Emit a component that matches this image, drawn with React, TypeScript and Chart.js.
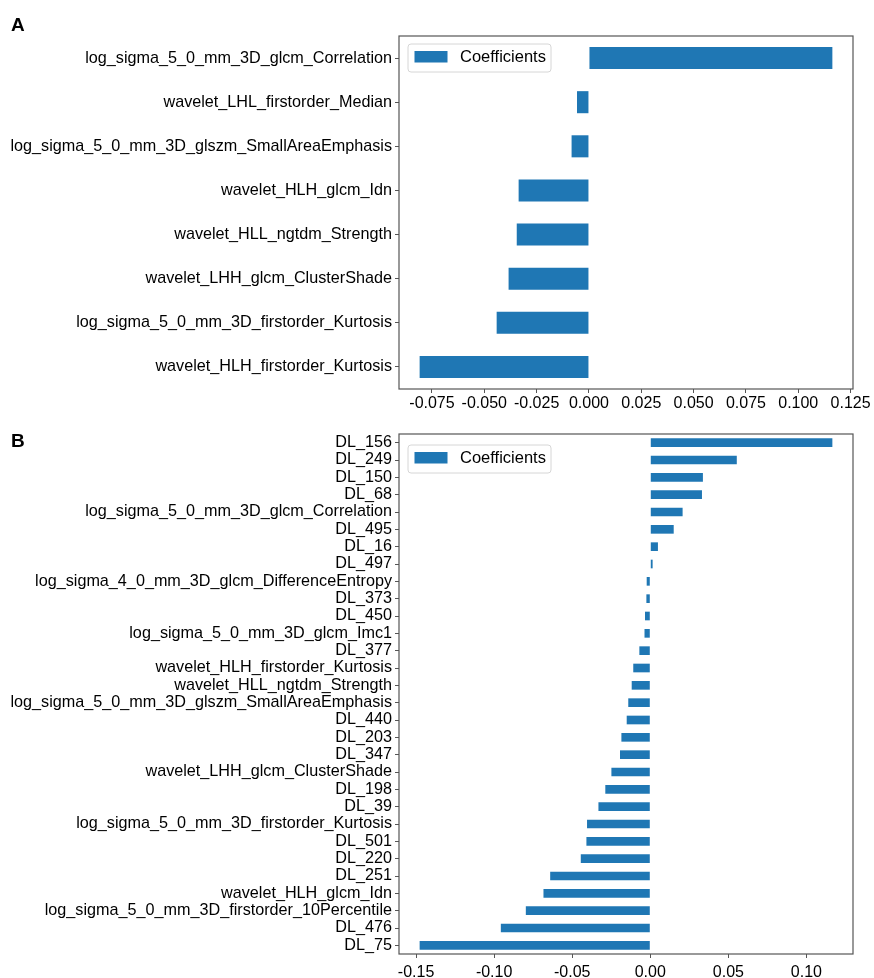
import React, { useEffect, useRef } from "react";
import { Chart, registerables } from "chart.js";

Chart.register(...registerables);

// Panel A: radiomics-only model coefficients (top to bottom)
const labelsA = [
  "log_sigma_5_0_mm_3D_glcm_Correlation",
  "wavelet_LHL_firstorder_Median",
  "log_sigma_5_0_mm_3D_glszm_SmallAreaEmphasis",
  "wavelet_HLH_glcm_Idn",
  "wavelet_HLL_ngtdm_Strength",
  "wavelet_LHH_glcm_ClusterShade",
  "log_sigma_5_0_mm_3D_firstorder_Kurtosis",
  "wavelet_HLH_firstorder_Kurtosis",
];
const valuesA = [0.1163, -0.0057, -0.0083, -0.0336, -0.0345, -0.0384, -0.0441, -0.0809];
const ticksA = [-0.075, -0.05, -0.025, 0, 0.025, 0.05, 0.075, 0.1, 0.125];

// Panel B: combined deep-learning + radiomics model coefficients (top to bottom)
const labelsB = [
  "DL_156",
  "DL_249",
  "DL_150",
  "DL_68",
  "log_sigma_5_0_mm_3D_glcm_Correlation",
  "DL_495",
  "DL_16",
  "DL_497",
  "log_sigma_4_0_mm_3D_glcm_DifferenceEntropy",
  "DL_373",
  "DL_450",
  "log_sigma_5_0_mm_3D_glcm_Imc1",
  "DL_377",
  "wavelet_HLH_firstorder_Kurtosis",
  "wavelet_HLL_ngtdm_Strength",
  "log_sigma_5_0_mm_3D_glszm_SmallAreaEmphasis",
  "DL_440",
  "DL_203",
  "DL_347",
  "wavelet_LHH_glcm_ClusterShade",
  "DL_198",
  "DL_39",
  "log_sigma_5_0_mm_3D_firstorder_Kurtosis",
  "DL_501",
  "DL_220",
  "DL_251",
  "wavelet_HLH_glcm_Idn",
  "log_sigma_5_0_mm_3D_firstorder_10Percentile",
  "DL_476",
  "DL_75",
];
const valuesB = [
  0.1166, 0.0554, 0.0337, 0.0331, 0.0207, 0.015, 0.0049, 0.0015, -0.0023, -0.0025,
  -0.0034, -0.0037, -0.007, -0.0109, -0.0119, -0.0141, -0.0151, -0.0185, -0.0194, -0.0249,
  -0.0288, -0.0332, -0.0405, -0.0409, -0.0445, -0.0641, -0.0684, -0.0797, -0.0957, -0.1477,
];
const ticksB = [-0.15, -0.1, -0.05, 0, 0.05, 0.1];

const FONT = "'Liberation Sans', Arial, Helvetica, sans-serif";
const BAR = "#1f77b4";
const SPINE = "#555555";

type PanelSpec = {
  labels: string[];
  values: number[];
  ticks: number[];
  decimals: number;
  canvasHeight: number;
  plotTop: number;
  plotBottom: number;
  plotLeft: number;
  plotRight: number;
  legendTop: number;
  xTickPad: number;
};

const frameAndLegend = {
  id: "frameAndLegend",
  afterDraw(chart: any, _args: any, opts: any) {
    const { ctx, chartArea } = chart;
    ctx.save();
    // full box around the plot area
    ctx.strokeStyle = SPINE;
    ctx.lineWidth = 1.2;
    ctx.strokeRect(chartArea.left, chartArea.top, chartArea.right - chartArea.left, chartArea.bottom - chartArea.top);

    // legend in the upper-left corner
    const x = chartArea.left + 9;
    const y = opts.top;
    const w = 143;
    const h = 28;
    const r = 3;
    ctx.beginPath();
    ctx.moveTo(x + r, y);
    ctx.lineTo(x + w - r, y);
    ctx.quadraticCurveTo(x + w, y, x + w, y + r);
    ctx.lineTo(x + w, y + h - r);
    ctx.quadraticCurveTo(x + w, y + h, x + w - r, y + h);
    ctx.lineTo(x + r, y + h);
    ctx.quadraticCurveTo(x, y + h, x, y + h - r);
    ctx.lineTo(x, y + r);
    ctx.quadraticCurveTo(x, y, x + r, y);
    ctx.closePath();
    ctx.fillStyle = "rgba(255,255,255,0.85)";
    ctx.fill();
    ctx.strokeStyle = "#d6d6d6";
    ctx.lineWidth = 1;
    ctx.stroke();

    ctx.fillStyle = BAR;
    ctx.fillRect(x + 6.5, y + 7, 33, 11.5);

    ctx.fillStyle = "#000";
    ctx.font = `16.5px ${FONT}`;
    ctx.textBaseline = "middle";
    ctx.textAlign = "left";
    ctx.fillText("Coefficients", x + 52, y + 13.5);
    ctx.restore();
  },
};

function Panel({ spec }: { spec: PanelSpec }) {
  const ref = useRef<HTMLCanvasElement | null>(null);

  useEffect(() => {
    if (!ref.current) return;
    const s = spec;
    const lo = Math.min(...s.values);
    const hi = Math.max(...s.values);
    const pad = (hi - lo) * 0.05;

    const chart = new Chart(ref.current, {
      type: "bar",
      data: {
        labels: s.labels,
        datasets: [
          {
            label: "Coefficients",
            data: s.values,
            backgroundColor: BAR,
            borderWidth: 0,
            barPercentage: 0.5,
            categoryPercentage: 1,
          },
        ],
      },
      plugins: [frameAndLegend],
      options: {
        indexAxis: "y",
        responsive: false,
        animation: false,
        devicePixelRatio: 1,
        layout: {
          padding: { top: s.plotTop, left: 0, right: 874 - s.plotRight, bottom: 0 },
        },
        plugins: {
          legend: { display: false },
          tooltip: { enabled: false },
          frameAndLegend: { top: s.legendTop },
        } as any,
        scales: {
          x: {
            type: "linear",
            min: lo - pad,
            max: hi + pad,
            afterFit(scale: any) {
              scale.height = s.canvasHeight - s.plotBottom;
            },
            afterBuildTicks(scale: any) {
              scale.ticks = s.ticks.map((v) => ({ value: v }));
            },
            ticks: {
              color: "#000",
              font: { family: FONT, size: 16 },
              padding: s.xTickPad,
              maxRotation: 0,
              autoSkip: false,
              callback: (v: any) => Number(v).toFixed(s.decimals),
            },
            grid: {
              display: true,
              drawOnChartArea: false,
              drawTicks: true,
              tickLength: 4,
              color: SPINE,
            },
            border: { display: false },
          },
          y: {
            type: "category",
            afterFit(scale: any) {
              scale.width = s.plotLeft;
            },
            ticks: {
              color: "#000",
              font: { family: FONT, size: 16.2 },
              padding: 3,
              autoSkip: false,
            },
            grid: {
              display: true,
              drawOnChartArea: false,
              drawTicks: true,
              tickLength: 4,
              color: SPINE,
              offset: false,
            },
            border: { display: false },
          },
        },
      } as any,
    });
    return () => chart.destroy();
  }, [spec]);

  return <canvas ref={ref} width={874} height={spec.canvasHeight} style={{ display: "block" }} />;
}

const specA: PanelSpec = {
  labels: labelsA,
  values: valuesA,
  ticks: ticksA,
  decimals: 3,
  canvasHeight: 420,
  plotTop: 36,
  plotBottom: 389,
  plotLeft: 399,
  plotRight: 853,
  legendTop: 44,
  xTickPad: 1,
};

const specB: PanelSpec = {
  labels: labelsB,
  values: valuesB,
  ticks: ticksB,
  decimals: 2,
  canvasHeight: 558,
  plotTop: 14,
  plotBottom: 534,
  plotLeft: 399,
  plotRight: 853,
  legendTop: 25,
  xTickPad: 5,
};

const letterStyle: React.CSSProperties = {
  position: "absolute",
  left: 11,
  fontFamily: FONT,
  fontWeight: "bold",
  fontSize: 19,
  lineHeight: "19px",
  color: "#000",
};

export default function App() {
  return (
    <div style={{ position: "absolute", left: 0, top: 0, width: 874, height: 978, background: "#fff" }}>
      <div style={{ position: "absolute", left: 0, top: 0 }}>
        <Panel spec={specA} />
      </div>
      <div style={{ position: "absolute", left: 0, top: 420 }}>
        <Panel spec={specB} />
      </div>
      <div style={{ ...letterStyle, top: 15 }}>A</div>
      <div style={{ ...letterStyle, top: 431 }}>B</div>
    </div>
  );
}
